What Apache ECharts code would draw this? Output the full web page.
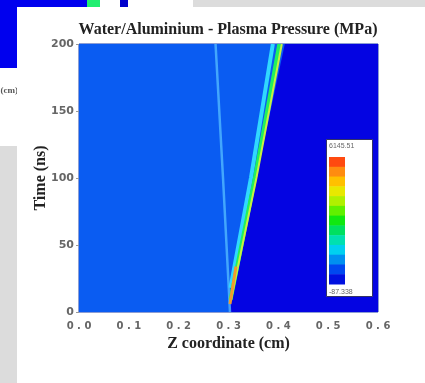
<!DOCTYPE html>
<html><head><meta charset="utf-8">
<script src="https://cdn.jsdelivr.net/npm/echarts@6/dist/echarts.min.js"></script>
<style>html,body{margin:0;padding:0;background:#fff}#c{width:425px;height:383px}</style>
</head><body><div id="c"></div>
<script>
// ---- data ----
const xTicks = [0.0, 0.1, 0.2, 0.3, 0.4, 0.5, 0.6];
const yTicks = [0, 50, 100, 150, 200];
// regions of the z-t field (z in cm, t in ns)
const lowRegion = [[0, 0], [0.6, 0], [0.6, 200], [0, 200]];
const aluminiumRegion = [[0.302, 0], [0.6, 0], [0.6, 200], [0.413, 200], [0.303, 9]];
// wave fronts
const reflectedWave = [[0.303, 0], [0.289, 100], [0.274, 200]];
const cyanFront = [[0.304, 18], [0.345, 100], [0.389, 200]];
const greenFront = [[0.304, 9], [0.353, 100], [0.402, 200]];
const yellowFront = [[0.305, 9], [0.356, 100], [0.407, 200]];
const hotSpot = [[0.303, 6], [0.309, 20], [0.315, 34]];
const legendColors = ['#ff4a10','#ff8c10','#ffc000','#e8e800','#b0f000','#60f000','#10e810','#00e060','#00e0b0','#00d0f0','#0090f0','#0048f0','#0010e0'];
const legendMax = '6145.51';
const legendMin = '-87.338';

const chart = echarts.init(document.getElementById('c'));
const regions = [lowRegion, aluminiumRegion];
const regionFill = ['#0a5cf2', '#0404e2'];

function lineSeries(data, color, width, z) {
  return { type: 'line', data: data, showSymbol: false, symbol: 'none', z: z,
    lineStyle: { color: color, width: width }, silent: true, animation: false };
}

const cbX = 329, cbTop = 157, cbBottom = 284, cbW = 16;
const segH = (cbBottom - cbTop) / legendColors.length;
const cbRects = legendColors.map((c, i) => ({
  type: 'rect', z: 100,
  shape: { x: cbX, y: cbTop + i * segH, width: cbW, height: segH + 0.5 },
  style: { fill: c }
}));

const serif = '"Liberation Serif", "DejaVu Serif", serif';
const labFont = '"DejaVu Sans", sans-serif';

chart.setOption({
  animation: false,
  backgroundColor: '#ffffff',
  title: {
    text: 'Water/Aluminium - Plasma Pressure (MPa)',
    left: 223, top: 17, textAlign: 'center',
    textStyle: { fontFamily: serif, fontWeight: 'bold', fontSize: 16, color: '#222' }
  },
  grid: { left: 79, right: 47, top: 44, bottom: 71, show: true, borderColor: '#1a3ca8', borderWidth: 1, backgroundColor: 'transparent' },
  xAxis: {
    type: 'value', min: 0, max: 0.6, interval: 0.1,
    name: 'Z coordinate (cm)', nameLocation: 'middle', nameGap: 24, nameMoveOverlap: false,
    nameTextStyle: { fontFamily: serif, fontWeight: 'bold', fontSize: 16, color: '#222' },
    axisLine: { show: false }, axisTick: { show: false }, splitLine: { show: false },
    axisLabel: { margin: 9, fontFamily: labFont, fontWeight: 'bold', fontSize: 10, color: '#666',
      formatter: v => v.toFixed(1).split('').join(' ') }
  },
  yAxis: {
    type: 'value', min: 0, max: 200, interval: 50,
    name: 'Time (ns)', nameLocation: 'middle', nameGap: 30, nameMoveOverlap: false,
    nameTextStyle: { fontFamily: serif, fontWeight: 'bold', fontSize: 16, color: '#222' },
    axisLine: { show: false }, splitLine: { show: false },
    axisTick: { show: true, length: 3, lineStyle: { color: '#999' } },
    axisLabel: { margin: 5, fontFamily: labFont, fontWeight: 'bold', fontSize: 11, color: '#666' }
  },
  series: [
    { type: 'custom', z: 1, silent: true,
      data: regions.map((r, i) => i),
      renderItem: (params, api) => {
        const idx = params.dataIndex;
        const pts = regions[idx].map(p => api.coord(p));
        return { type: 'polygon', shape: { points: pts }, style: { fill: regionFill[idx] } };
      } },
    lineSeries(reflectedWave, 'rgba(80,185,255,0.8)', 2.5, 3),
    lineSeries(cyanFront, '#30d8ff', 4, 4),
    lineSeries(greenFront, '#20f060', 4, 5),
    lineSeries(yellowFront, '#c8f040', 2, 6),
    lineSeries(hotSpot, '#f09a30', 3, 7)
  ],
  graphic: [
    { type: 'rect', z: -10, shape: { x: 0, y: 0, width: 87, height: 68 }, style: { fill: '#0000ee' } },
    { type: 'rect', z: -10, shape: { x: 87, y: 0, width: 13, height: 7 }, style: { fill: '#20ee70' } },
    { type: 'rect', z: -10, shape: { x: 120, y: 0, width: 8, height: 7 }, style: { fill: '#0000cc' } },
    { type: 'rect', z: -10, shape: { x: 193, y: 0, width: 232, height: 7 }, style: { fill: '#dcdcdc' } },
    { type: 'rect', z: -10, shape: { x: 0, y: 146, width: 17, height: 237 }, style: { fill: '#dcdcdc' } },
    { type: 'text', z: -10, style: { text: '(cm)', x: 18, y: 91, align: 'right', verticalAlign: 'middle', font: 'bold 9px ' + serif, fill: '#555' } },
    { type: 'rect', z: -9, shape: { x: 17, y: 7, width: 408, height: 376 }, style: { fill: '#ffffff' } },
    { type: 'rect', z: 99, shape: { x: 326.5, y: 139.5, width: 46, height: 157 }, style: { fill: '#ffffff', stroke: '#333366', lineWidth: 1 } },
    { type: 'text', z: 101, style: { text: legendMax, x: 329, y: 146, verticalAlign: 'middle', font: '7px "Liberation Sans", sans-serif', fill: '#666' } },
    { type: 'text', z: 101, style: { text: legendMin, x: 329, y: 292, verticalAlign: 'middle', font: '7px "Liberation Sans", sans-serif', fill: '#666' } }
  ].concat(cbRects)
});
</script></body></html>
